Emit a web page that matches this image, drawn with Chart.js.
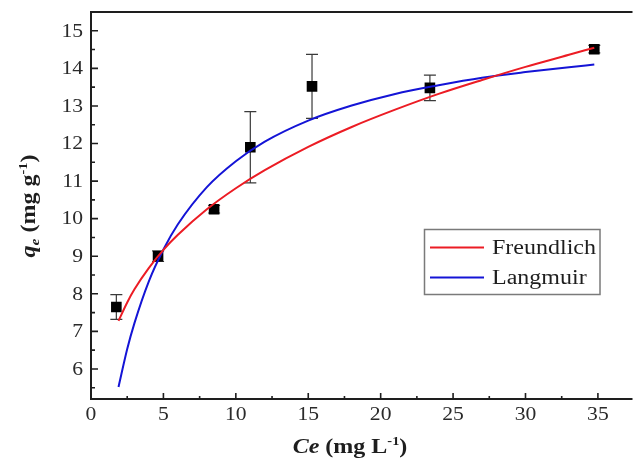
<!DOCTYPE html>
<html><head><meta charset="utf-8">
<style>html,body{margin:0;padding:0;background:#fff;overflow:hidden}</style>
<script src="https://cdn.jsdelivr.net/npm/chart.js@4/dist/chart.umd.min.js"></script>
</head><body>
<canvas id="c" width="638" height="461" style="display:block;width:638px;height:461px"></canvas>
<script>
// ---- data ----
const xTicks = [0, 5, 10, 15, 20, 25, 30, 35];
const yTicks = [6, 7, 8, 9, 10, 11, 12, 13, 14, 15];
const ce = [1.75, 4.63, 8.5, 11.0, 15.26, 23.4, 34.75];
const qe = [7.65, 9.0, 10.25, 11.9, 13.52, 13.48, 14.51];
const qeErr = [0.33, 0.14, 0.1, 0.95, 0.85, 0.34, 0.1];
const fitCe = [1.9, 2.5, 3, 4, 5, 6, 8, 10, 12, 15, 18, 21, 24, 27, 30, 33, 34.75];
const freundlich = [7.28, 7.77, 8.12, 8.69, 9.17, 9.57, 10.25, 10.81, 11.29, 11.91, 12.44, 12.90, 13.32, 13.69, 14.04, 14.36, 14.55];
const langmuir = [5.52, 6.53, 7.22, 8.34, 9.18, 9.85, 10.84, 11.53, 12.05, 12.61, 13.01, 13.32, 13.55, 13.75, 13.90, 14.03, 14.10];
const seriesNames = ['Freundlich', 'Langmuir'];

const SX = 1.2; // horizontal stretch of the reference lettering
const INK = '#1e1e1e';
const SERIF = '"Liberation Serif","Times New Roman",serif';

function txt(ctx, s, x, y, align, font) {
  ctx.save();
  ctx.translate(x, y);
  ctx.scale(SX, 1);
  ctx.font = font;
  ctx.textAlign = align;
  ctx.fillText(s, 0, 0);
  ctx.restore();
}
// draw mixed runs along baseline starting at 0 (in current transform)
function runs(ctx, parts) {
  let w = 0;
  for (const p of parts) { ctx.font = p.font; w += ctx.measureText(p.t).width; }
  let x = -w / 2;
  for (const p of parts) {
    ctx.font = p.font;
    ctx.fillText(p.t, x, p.dy || 0);
    x += ctx.measureText(p.t).width;
  }
}

const decor = {
  id: 'decor',
  beforeDatasetsDraw(chart) {
    const ctx = chart.ctx, xs = chart.scales.x, ys = chart.scales.y;
    ctx.save();
    ctx.strokeStyle = '#3a3a3a';
    ctx.lineWidth = 1.2;
    ce.forEach((c, i) => {
      const px = xs.getPixelForValue(c);
      const t = ys.getPixelForValue(qe[i] + qeErr[i]);
      const b = ys.getPixelForValue(qe[i] - qeErr[i]);
      ctx.beginPath();
      ctx.moveTo(px, t); ctx.lineTo(px, b);
      ctx.moveTo(px - 6, t); ctx.lineTo(px + 6, t);
      ctx.moveTo(px - 6, b); ctx.lineTo(px + 6, b);
      ctx.stroke();
    });
    ctx.restore();
  },
  afterDraw(chart) {
    const ctx = chart.ctx, xs = chart.scales.x, ys = chart.scales.y, a = chart.chartArea;
    ctx.save();
    // frame
    ctx.strokeStyle = INK;
    ctx.lineWidth = 2;
    ctx.beginPath();
    ctx.moveTo(a.right + 2, a.top); ctx.lineTo(a.left, a.top); ctx.lineTo(a.left, a.bottom); ctx.lineTo(a.right + 2, a.bottom);
    ctx.stroke();
    // ticks (inward)
    ctx.lineWidth = 1.6;
    ctx.beginPath();
    xTicks.forEach((v, i) => {
      const p = xs.getPixelForValue(v);
      ctx.moveTo(p, a.bottom); ctx.lineTo(p, a.bottom - 6);
      const m = v + (xTicks[1] - xTicks[0]) / 2;
      if (m < xs.max) { const q = xs.getPixelForValue(m); ctx.moveTo(q, a.bottom); ctx.lineTo(q, a.bottom - 3); }
    });
    yTicks.forEach((v) => {
      const p = ys.getPixelForValue(v);
      ctx.moveTo(a.left, p); ctx.lineTo(a.left + 7, p);
      const m = v + (yTicks[1] - yTicks[0]) / 2;
      if (m < ys.max) { const q = ys.getPixelForValue(m); ctx.moveTo(a.left, q); ctx.lineTo(a.left + 4, q); }
      const m2 = v - (yTicks[1] - yTicks[0]) / 2;
      if (v === yTicks[0] && m2 > ys.min) { const q = ys.getPixelForValue(m2); ctx.moveTo(a.left, q); ctx.lineTo(a.left + 4, q); }
    });
    ctx.stroke();
    // tick labels
    ctx.fillStyle = '#2a2a2a';
    ctx.textBaseline = 'middle';
    const tf = '18px ' + SERIF;
    xTicks.forEach(v => txt(ctx, String(v), xs.getPixelForValue(v), a.bottom + 16, 'center', tf));
    yTicks.forEach(v => txt(ctx, String(v), a.left - 8, ys.getPixelForValue(v) + 1, 'right', tf));
    // axis titles
    ctx.fillStyle = INK;
    ctx.textBaseline = 'alphabetic';
    ctx.textAlign = 'left';
    const B = 'bold 20px ' + SERIF, BI = 'italic bold 20px ' + SERIF, BS = 'bold 12px ' + SERIF, BIS = 'italic bold 13px ' + SERIF;
    ctx.save();
    ctx.translate(350, 453);
    ctx.scale(SX, 1);
    runs(ctx, [{t: 'Ce', font: BI}, {t: ' (mg L', font: B}, {t: '-1', font: BS, dy: -8}, {t: ')', font: B}]);
    ctx.restore();
    ctx.save();
    ctx.translate(35, 206);
    ctx.rotate(-Math.PI / 2);
    ctx.scale(SX, 1);
    runs(ctx, [{t: 'q', font: BI}, {t: 'e', font: BIS, dy: 4}, {t: ' (mg g', font: B}, {t: '-1', font: BS, dy: -8}, {t: ')', font: B}]);
    ctx.restore();
    // legend
    ctx.strokeStyle = '#7a7a7a';
    ctx.lineWidth = 1.5;
    ctx.strokeRect(424.5, 229.5, 175.5, 65);
    const lf = '20px ' + SERIF;
    [0, 1].forEach(i => {
      const ds = chart.data.datasets[i];
      const y = 247.5 + i * 30;
      ctx.strokeStyle = ds.borderColor;
      ctx.lineWidth = 2;
      ctx.beginPath(); ctx.moveTo(430, y); ctx.lineTo(484, y); ctx.stroke();
      ctx.fillStyle = INK;
      ctx.textBaseline = 'middle';
      txt(ctx, ds.label, 492, y + 1, 'left', lf);
    });
    ctx.restore();
  }
};

new Chart(document.getElementById('c'), {
  type: 'scatter',
  data: {
    datasets: [
      {label: seriesNames[0], data: fitCe.map((x, i) => ({x, y: freundlich[i]})), showLine: true,
       borderColor: '#ec1c24', borderWidth: 2, pointRadius: 0, cubicInterpolationMode: 'monotone', order: 1},
      {label: seriesNames[1], data: fitCe.map((x, i) => ({x, y: langmuir[i]})), showLine: true,
       borderColor: '#1414d6', borderWidth: 2, pointRadius: 0, cubicInterpolationMode: 'monotone', order: 2},
      {label: 'data', data: ce.map((x, i) => ({x, y: qe[i]})), showLine: false,
       pointStyle: 'rect', pointRadius: 7.5, backgroundColor: '#000', borderColor: '#000', borderWidth: 0, order: 3}
    ]
  },
  options: {
    responsive: false,
    animation: false,
    devicePixelRatio: 1,
    layout: {padding: {left: 91, top: 12, right: 0, bottom: 62}},
    plugins: {legend: {display: false}, tooltip: {enabled: false}},
    scales: {
      x: {type: 'linear', display: false, min: 0, max: 37.25},
      y: {type: 'linear', display: false, min: 5.2, max: 15.5}
    }
  },
  plugins: [decor]
});
</script>
</body></html>
